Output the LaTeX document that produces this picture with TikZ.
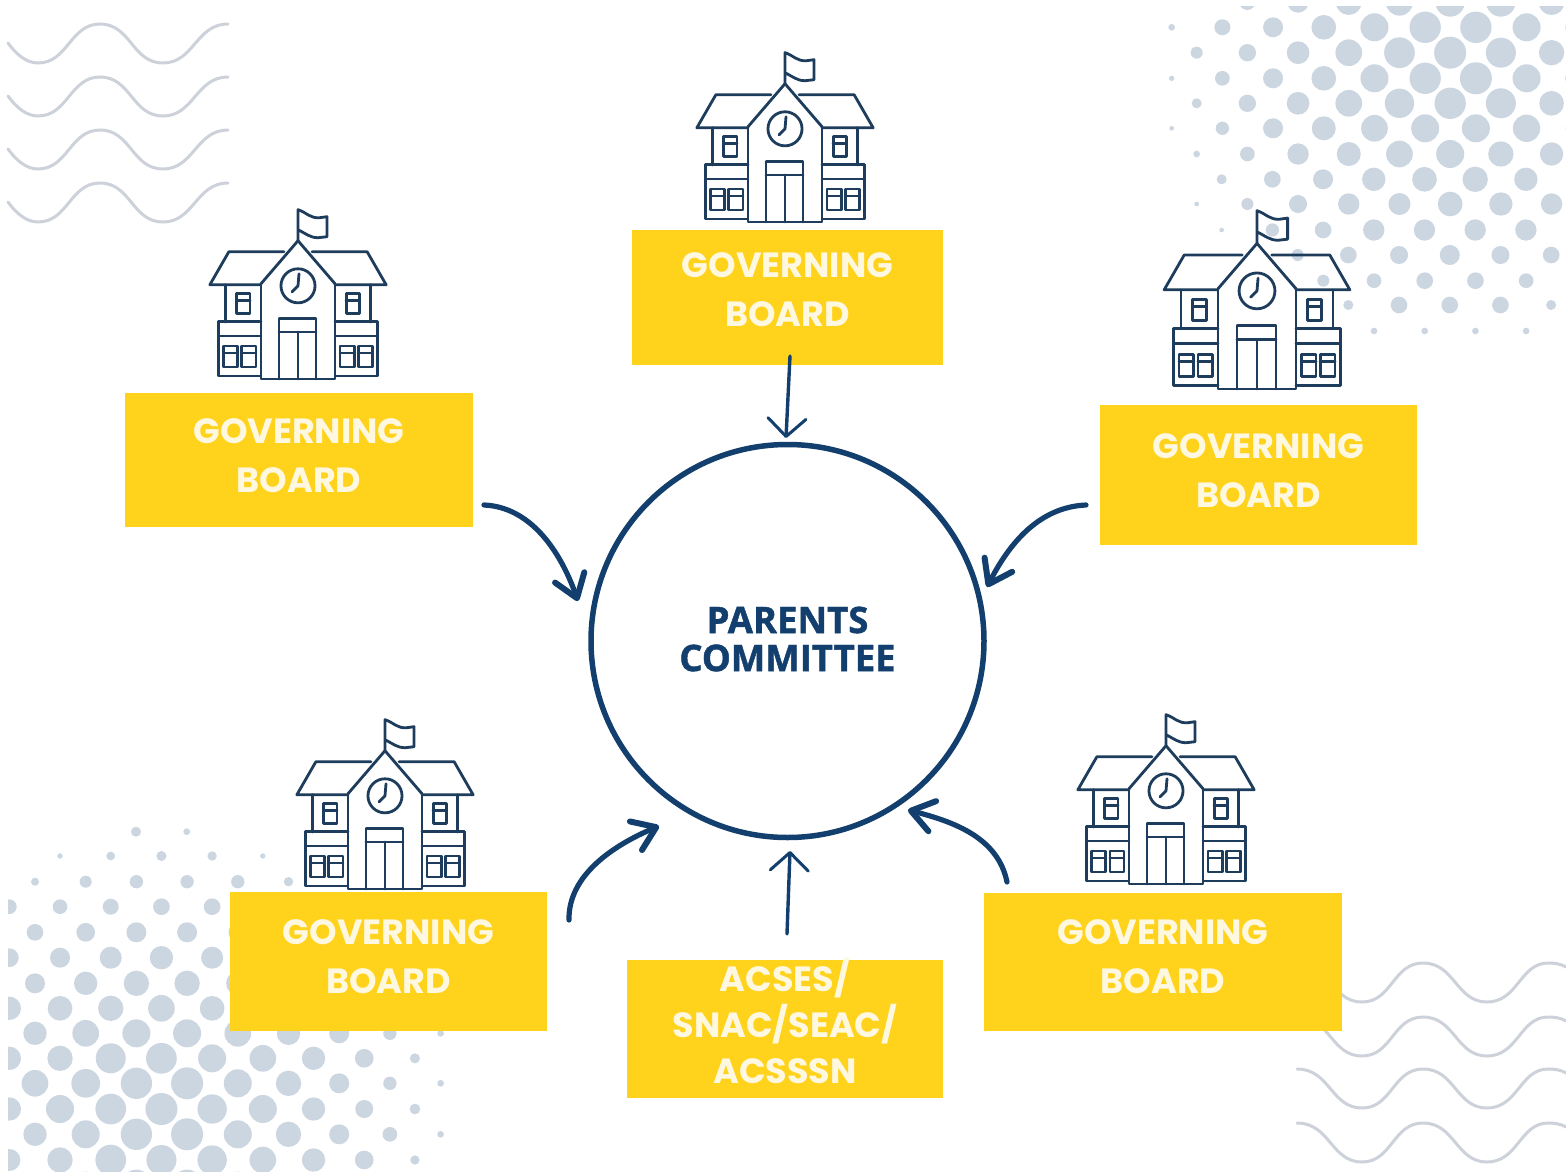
\documentclass[tikz,border=0pt]{standalone}
\usepackage{fontspec}
\usetikzlibrary{arrows.meta}
\newfontfamily\boxfont{Poppins}
\newfontfamily\centrefont{Open Sans}[BoldFeatures={FakeBold=1.2}]
\definecolor{navy}{HTML}{123F6D}
\definecolor{housenavy}{HTML}{1E3D5C}
\definecolor{sun}{HTML}{FFD21C}
\definecolor{dotblue}{HTML}{CBD6E0}
\definecolor{wavegrey}{HTML}{CDD2DA}
\definecolor{labelwhite}{HTML}{FFF8E0}
\tikzset{
  gbox/.style={fill=sun,draw=none,rectangle,inner sep=0pt},
  boxtext/.style={text=labelwhite,align=center,inner sep=0pt,font=\boxfont\bfseries\fontsize{35}{49}\selectfont},
  boxtextb/.style={boxtext,font=\boxfont\bfseries\fontsize{35}{46}\selectfont},
  centretext/.style={text=navy,align=center,inner sep=0pt,font=\centrefont\bfseries\fontsize{36.5}{38}\selectfont},
  wave/.style={draw=wavegrey,line width=3pt,line cap=round},
  thinarrow/.style={draw=navy,line width=3.4pt,line cap=round,-{Straight Barb[length=18pt,width=38pt,line width=3pt,round]}},
  fatarrow/.style={draw=navy,line width=5.2pt,line cap=round,-{Straight Barb[length=22pt,width=31pt,line width=6pt,round]}},
  houseline/.style={draw=housenavy,line width=2.8pt,line join=round,line cap=round},
  school/.pic={
    \begin{scope}[y=1pt]
    \draw[houseline] (0,138) -- (0,169) .. controls (9,166) and (12,160) .. (22,161) -- (29,162) -- (29,142) -- (20,141) .. controls (12,141) and (8,145) .. (0,149);
    \draw[houseline] (-37,95) -- (0,138) -- (37,95);
    \draw[houseline] (-14,127) -- (-69,127) -- (-88,94) -- (-37,94);
    \draw[houseline] (14,127) -- (69,127) -- (88,94) -- (37,94);
    \draw[houseline] (-37,95) -- (-37,0) -- (37,0) -- (37,95);
    \draw[houseline] (-72,94) -- (-72,57) (72,94) -- (72,57);
    \draw[houseline] (-37,57) -- (-79,57) -- (-79,3) -- (-37,3) (-79,43) -- (-37,43);
    \draw[houseline] (37,57) -- (79,57) -- (79,3) -- (37,3) (79,43) -- (37,43);
    \draw[houseline] (-61,65) rectangle (-48,85) (-61,78) -- (-48,78);
    \draw[houseline] (48,65) rectangle (61,85) (48,78) -- (61,78);
    \draw[houseline] (-74,12) rectangle (-60,33) (-74,26) -- (-60,26);
    \draw[houseline] (-56,12) rectangle (-42,33) (-56,26) -- (-42,26);
    \draw[houseline] (42,12) rectangle (56,33) (42,26) -- (56,26);
    \draw[houseline] (60,12) rectangle (74,33) (60,26) -- (74,26);
    \draw[houseline] (-19,0) -- (-19,60) -- (18,60) -- (18,0) (-19,47) -- (18,47) (0,47) -- (0,0);
    \draw[houseline] (0,93) circle[radius=17pt];
    \draw[houseline] (1,105) -- (0,93) -- (-6,87);
    \end{scope}
  }
}
\def\dotorigin{0}
\newcommand{\dotrow}[3]{% y, x of first dot (zoom units), radii (zoom units)
  \foreach \rr [count=\ii from 0] in {#3} {
    \pgfmathsetmacro{\dx}{\dotorigin+(#2)/3+50.7*\ii}
    \pgfmathsetmacro{\dr}{\rr/3}
    \fill[dotblue] (\dx,#1) circle[radius=\dr pt];
  }
}
\newcommand{\wavetl}[1]{%
  \begin{scope}[yshift=-#1pt]
  \draw[wave] (8,43) .. controls (16,54) and (26,63) .. (38,63) .. controls (68,63) and (70,24) .. (100,24) .. controls (131,24) and (132,63) .. (163,63) .. controls (194,63) and (196,24) .. (228,24);
  \end{scope}
}
\newcommand{\wavebr}[1]{%
  \begin{scope}[yshift=-#1pt]
  \draw[wave] (1297,963) .. controls (1330,963) and (1331,1002) .. (1362,1002) .. controls (1392,1002) and (1393,963) .. (1423,963) .. controls (1455,963) and (1456,1002) .. (1487,1002) .. controls (1518,1002) and (1520,963) .. (1548,963) .. controls (1555,963) and (1561,964) .. (1566,967);
  \end{scope}
}
\begin{document}
\begin{tikzpicture}[x=1pt,y=-1pt]
\useasboundingbox (0,0) rectangle (1566,1172);
\fill[white] (0,0) rectangle (1566,1172);
% top-right halftone
\begin{scope}
\clip (1150,7) rectangle (1566,345);
\def\dotorigin{1160}
\dotrow{2}{262}{24,32,39,41,44,44,39}
\dotrow{27.3}{35}{10,24,30,37,42,47,47,42,36}
\dotrow{52.7}{110}{18,26,34,40,46,48,45,38}
\dotrow{78.3}{35}{8,22,30,37,42,47,48,42,36}
\dotrow{103.3}{110}{15,26,34,40,44,47,45,37}
\dotrow{128.3}{35}{7,20,30,36,40,42,42,41,35}
\dotrow{154}{110}{10,22,32,36,40,42,38,35}
\dotrow{179.3}{185}{15,25,30,35,37,38,35,30}
\dotrow{204}{110}{7,18,27,32,33,37,35,32}
\dotrow{230}{185}{7,20,25,32,32,32,32,28}
\dotrow{255}{413}{18,25,27,30,27,25}
\dotrow{280.7}{490}{18,22,25,25,22}
\dotrow{305}{565}{15,25,25,25,15}
\dotrow{331}{642}{10,10,10,10}
\end{scope}
% bottom-left halftone
\begin{scope}
\clip (8,820) rectangle (460,1172);
\def\dotorigin{0}
\dotrow{831.7}{408}{15,10}
\dotrow{856}{180}{8,13,15,14,8}
\dotrow{881.7}{105}{12,18,20,20,20,14}
\dotrow{906.7}{28}{22,22,24,25,25}
\dotrow{932.3}{105}{25,28,30,30,28}
\dotrow{957.7}{28}{28,30,33,35,33}
\dotrow{983.3}{105}{30,35,38,38,35}
\dotrow{1008.3}{28}{35,37,38,40,37}
\dotrow{1033.3}{105}{35,40,42,42,40,35,30,20,10}
\dotrow{1058.3}{28}{35,38,45,46,42,40,35,28,15}
\dotrow{1083.3}{105}{40,43,47,48,42,38,30,20,10}
\dotrow{1109}{28}{35,42,46,48,44,42,35,27,16}
\dotrow{1134.3}{105}{35,42,47,48,42,38,30,22,10}
\dotrow{1160}{28}{33,38,46,45,44,40,35,28,14}
\dotrow{1185}{105}{30,40,46,46,40,36,30,20}
\end{scope}
% waves
\wavetl{0}\wavetl{53}\wavetl{106}\wavetl{159}
\wavebr{0}\wavebr{54}\wavebr{106}\wavebr{160}
% boxes
\node[gbox,minimum width=311pt,minimum height=135pt,label={[boxtext,yshift=8pt]center:GOVERNING\\BOARD}] (bT) at (787.5,297.5) {};
\node[gbox,minimum width=348pt,minimum height=134pt,label={[boxtext,yshift=4.5pt]center:GOVERNING\\BOARD}] (bL) at (299,460) {};
\node[gbox,minimum width=317pt,minimum height=140pt,label={[boxtext,yshift=4.5pt]center:GOVERNING\\BOARD}] (bR) at (1258.5,475) {};
\node[gbox,minimum width=317pt,minimum height=139pt,label={[boxtext,yshift=5pt]center:GOVERNING\\BOARD}] (bBL) at (388.5,961.5) {};
\node[gbox,minimum width=358pt,minimum height=138pt,label={[boxtext,yshift=5.5pt]center:GOVERNING\\BOARD}] (bBR) at (1163,962) {};
\node[gbox,minimum width=316pt,minimum height=138pt,label={[boxtextb,yshift=8pt]center:ACSES/\\SNAC/SEAC/\\ACSSSN}] (bB) at (785,1029) {};
% centre
\node[circle,draw=navy,line width=5.5pt,minimum size=393pt,inner sep=0pt,label={[centretext,yshift=2pt]center:PARENTS\\COMMITTEE}] (pc) at (787.5,641) {};
% schools
\pic[scale=1.002] (sT) at (785,222) {school};
\pic[scale=1.002] (sL) at (298,379) {school};
\pic[scale=1.055] (sR) at (1257,389) {school};
\pic[scale=1.002] (sBL) at (385,889) {school};
\pic[scale=1.002] (sBR) at (1166,884) {school};
% connector ends
\coordinate (aTs) at (790,356);   \coordinate (aTe) at (786,438);
\coordinate (aLs) at (484,505);   \coordinate (aLe) at (578,601);
\coordinate (aRs) at (1086,505);  \coordinate (aRe) at (987,587);
\coordinate (aBLs) at (569,920);  \coordinate (aBLe) at (659,826);
\coordinate (aBs) at (787,934);   \coordinate (aBe) at (790,851);
\coordinate (aBRs) at (1007,882); \coordinate (aBRe) at (908,810);
\draw[thinarrow] (aTs) -- (aTe);
\draw[thinarrow] (aBs) -- (aBe);
\draw[fatarrow] (aLs) .. controls (530,507) and (560,550) .. (aLe);
\draw[fatarrow] (aRs) .. controls (1040,507) and (1010,542) .. (aRe);
\draw[fatarrow] (aBLs) .. controls (568,875) and (614,845) .. (aBLe);
\draw[fatarrow] (aBRs) .. controls (998,838) and (955,822) .. (aBRe);
\end{tikzpicture}
\end{document}
